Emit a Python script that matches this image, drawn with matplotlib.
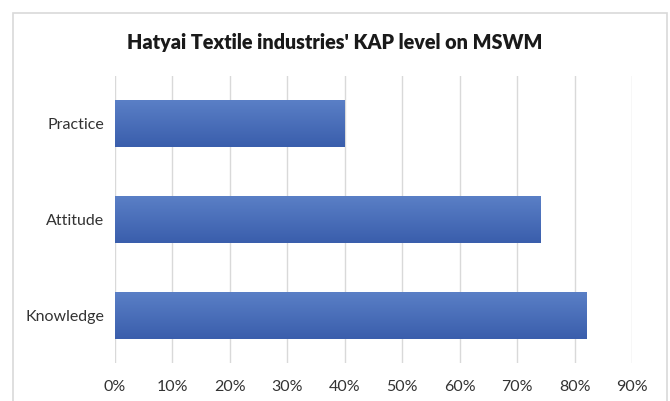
import matplotlib
matplotlib.use("Agg")
import matplotlib.pyplot as plt
import numpy as np
from matplotlib.patches import Rectangle
from matplotlib.ticker import PercentFormatter
from matplotlib.colors import LinearSegmentedColormap

categories = ["Knowledge", "Attitude", "Practice"]
values = [82, 74, 40]
xticks = [0, 10, 20, 30, 40, 50, 60, 70, 80, 90]
title = "Hatyai Textile industries' KAP level on MSWM"

plt.rcParams['font.family'] = ['Lato', 'DejaVu Sans']

fig = plt.figure(figsize=(6.7, 4.01), dpi=100)
fig.patch.set_facecolor("white")
# chart border (bottom edge lies outside the image)
fig.patches.append(Rectangle((13/670, -5/401), 654/670, 393/401, transform=fig.transFigure,
                             fill=False, edgecolor="#d9d9d9", linewidth=1.2))

ax = fig.add_axes([115/670, 1-363/401, 517/670, 287/401])
bars = ax.barh(range(len(categories)), values, height=0.49, color="#4a6cb8", zorder=2)

grad = np.linspace(0, 1, 100).reshape(-1, 1)
cmap = LinearSegmentedColormap.from_list("g", ["#3a5eac", "#5a7fc6"])
for b in bars:
    x0, y0 = b.get_x(), b.get_y()
    w, h = b.get_width(), b.get_height()
    im = ax.imshow(grad, extent=(x0, x0 + w, y0, y0 + h), origin="lower",
                   aspect="auto", cmap=cmap, zorder=3)
    im.set_clip_path(b)

ax.set_xlim(0, 90)
ax.set_ylim(-0.5, 2.5)
ax.set_xticks(xticks)
ax.xaxis.set_major_formatter(PercentFormatter(decimals=0))
ax.set_yticks(range(len(categories)))
ax.set_yticklabels(categories)
ax.grid(axis="x", color="#d9d9d9", linewidth=1.0, zorder=0)
ax.set_axisbelow(True)
for s in ax.spines.values():
    s.set_visible(False)
ax.tick_params(axis="both", length=0, labelsize=11.5, colors="#333333")
ax.tick_params(axis="x", pad=12)
ax.tick_params(axis="y", pad=8)

fig.text(0.5, 1-42/401, title, ha="center", va="center", fontsize=14.2, fontweight="heavy", color="#1a1a1a")

fig.savefig("out.png", dpi=100)
